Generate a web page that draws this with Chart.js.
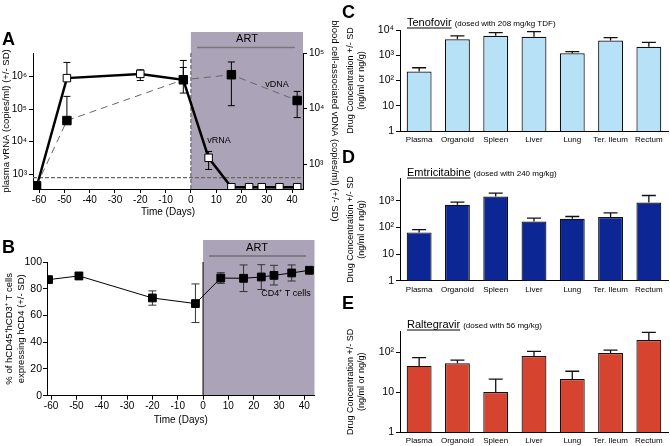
<!DOCTYPE html>
<html>
<head>
<meta charset="utf-8">
<script src="https://cdn.jsdelivr.net/npm/chart.js@4"></script>
<style>
body { margin: 0; background: #fff; }
#wrap { position: relative; width: 670px; height: 446px; overflow: hidden; background: #fff; }
canvas { position: absolute; }
</style>
</head>
<body>
<div id="wrap">
<canvas id="chartA" width="340" height="230" style="left:0;top:0"></canvas>
<canvas id="chartB" width="340" height="216" style="left:0;top:230px"></canvas>
<canvas id="chartC" width="330" height="148" style="left:340px;top:0"></canvas>
<canvas id="chartD" width="330" height="155" style="left:340px;top:145px"></canvas>
<canvas id="chartE" width="330" height="156" style="left:340px;top:290px"></canvas>
</div>
<script>
// panel A - plasma vRNA / cell-associated vDNA
const days = [-61, -49, -20, -3, 7, 16, 23, 28, 35, 42];
const vrna = [400, 890000, 1200000, 790000, 3200, 400, 400, 400, 400, 400];
const vrnaHigh = [null, 2700000, 1600000, 3100000, 5000, null, null, null, null, null];
const vrnaLow = [null, null, 750000, 310000, 1400, null, null, null, null, null];
const dnaDays = [-61, -49, -3, 16, 42];
const vdna = [410, 6100, 33000, 40700, 14000];
const vdnaHigh = [null, 16600, 55000, 69000, 20400];
const vdnaLow = [null, null, null, 11300, 6900];
const timeTicks = [-60, -50, -40, -30, -20, -10, 0, 10, 20, 30, 40];
const rnaTicks = [1e3, 1e4, 1e5, 1e6];
const rnaTickLabels = ['10³', '10⁴', '10⁵', '10⁶'];
const dnaTicks = [1e3, 1e4, 1e5];
const dnaTickLabels = ['10³', '10⁴', '10⁵'];
const detectionLimit = 790;

// panel B - CD4 T cells
const cd4Days = [-61, -49, -20, -3, 7, 16, 23, 28, 35, 42];
const cd4 = [86.8, 89.6, 73.1, 68.9, 88, 87.8, 88.8, 90, 91.8, 93.8];
const cd4High = [null, 91.8, 78.4, 83.6, 92, 97.8, 98, 97.5, 97.8, null];
const cd4Low = [null, 86.8, 67.7, 54.7, 84, 77.9, 79.4, 82.8, 85.8, null];
const pctTicks = [0, 20, 40, 60, 80, 100];

// panels C-E - drug levels (bar top and top of SD bar)
const tissues = ['Plasma', 'Organoid', 'Spleen', 'Liver', 'Lung', 'Ter. Ileum', 'Rectum'];
const tenofovir = [225, 4300, 5900, 5400, 1200, 3800, 2150];
const tenofovirSd = [320, 5900, 7800, 8600, 1380, 5000, 3250];
const emtricitabine = [65, 710, 1450, 167, 210, 245, 860];
const emtricitabineSd = [83, 890, 1950, 225, 257, 355, 1580];
const raltegravir = [45, 52, 10, 79, 21, 94, 200];
const raltegravirSd = [72, 63, 21, 104, 33, 112, 310];
const concTicks = [1, 10, 100, 1000, 10000];
const concTickLabels = ['1', '10', '10²', '10³', '10⁴'];

Chart.defaults.font.family = "'Liberation Sans', Arial, sans-serif";
Chart.defaults.color = '#000';
Chart.defaults.animation = false;

const shade = '#aba3b7';

function fixTicks(vals) {
    return function (scale) { scale.ticks = vals.map(v => ({ value: v })); };
}

function drawErr(ctx, x, y0, y1, cap) {
    ctx.beginPath();
    ctx.moveTo(x, y0);
    ctx.lineTo(x, y1);
    ctx.moveTo(x - cap / 2, y1);
    ctx.lineTo(x + cap / 2, y1);
    ctx.stroke();
}

const axisStyle = {
    grid: { drawOnChartArea: false, color: '#000', tickLength: 4 },
    border: { color: '#000', width: 1 }
};

// ---------- A ----------
new Chart(document.getElementById('chartA'), {
    type: 'line',
    data: {
        datasets: [{
            label: 'vDNA',
            data: dnaDays.map((d, i) => ({ x: d, y: vdna[i] })),
            yAxisID: 'y2',
            borderColor: '#666',
            borderWidth: 1,
            borderDash: [7, 5],
            pointStyle: 'rect',
            pointRadius: 6,
            pointBackgroundColor: '#000',
            pointBorderColor: '#000'
        }, {
            label: 'vRNA',
            data: days.map((d, i) => ({ x: d, y: vrna[i] })),
            yAxisID: 'y',
            borderColor: '#000',
            borderWidth: 2.5,
            pointStyle: 'rect',
            pointRadius: 5.3,
            pointBackgroundColor: '#fff',
            pointBorderColor: '#000',
            pointBorderWidth: 1
        }]
    },
    options: {
        responsive: false,
        layout: { padding: { top: 53, bottom: 12 } },
        plugins: { legend: { display: false }, tooltip: { enabled: false } },
        scales: {
            x: {
                type: 'linear', min: -62.4, max: 44.3,
                afterBuildTicks: fixTicks(timeTicks),
                afterFit: s => { s.height = 29; },
                ticks: { font: { size: 10 }, padding: 1, maxRotation: 0 },
                title: { display: true, text: 'Time (Days)', font: { size: 10 }, padding: 0 },
                ...axisStyle
            },
            y: {
                type: 'logarithmic', position: 'left', min: 353, max: 5250000,
                afterBuildTicks: fixTicks(rnaTicks),
                afterFit: s => { s.width = 33; },
                ticks: { font: { size: 10 }, padding: 2, callback: v => rnaTickLabels[rnaTicks.indexOf(v)] },
                title: { display: true, text: 'plasma vRNA (copies/ml) (+/- SD)', font: { size: 9.5 }, padding: 1 },
                ...axisStyle
            },
            y2: {
                type: 'logarithmic', position: 'right', min: 359, max: 100000,
                afterBuildTicks: fixTicks(dnaTicks),
                afterFit: s => { s.width = 37; },
                ticks: { font: { size: 10 }, padding: 2, callback: v => dnaTickLabels[dnaTicks.indexOf(v)] },
                title: { display: true, text: 'blood cell-associated vDNA (copies/ml) (+/- SD)', font: { size: 9.5 }, padding: 0 },
                ...axisStyle
            }
        }
    },
    plugins: [{
        id: 'panelA',
        beforeDraw(chart) {
            const { ctx, chartArea: a, scales } = chart;
            const x0 = scales.x.getPixelForValue(0);
            ctx.save();
            ctx.fillStyle = shade;
            ctx.fillRect(x0, 32, a.right - x0, a.bottom - 32);
            ctx.restore();
        },
        beforeDatasetsDraw(chart) {
            const { ctx, chartArea: a, scales } = chart;
            const x0 = scales.x.getPixelForValue(0);
            const yl = scales.y.getPixelForValue(detectionLimit);
            ctx.save();
            ctx.strokeStyle = '#666';
            ctx.lineWidth = 1.2;
            ctx.setLineDash([4, 2]);
            ctx.beginPath();
            ctx.moveTo(a.left, yl); ctx.lineTo(a.right, yl);
            ctx.moveTo(x0, a.top); ctx.lineTo(x0, a.bottom);
            ctx.stroke();
            ctx.setLineDash([]);
            ctx.strokeStyle = '#000';
            ctx.lineWidth = 1;
            days.forEach((d, i) => {
                const x = scales.x.getPixelForValue(d);
                const y = scales.y.getPixelForValue(vrna[i]);
                if (vrnaHigh[i]) drawErr(ctx, x, y, scales.y.getPixelForValue(vrnaHigh[i]), 7);
                if (vrnaLow[i]) drawErr(ctx, x, y, scales.y.getPixelForValue(vrnaLow[i]), 7);
            });
            dnaDays.forEach((d, i) => {
                const x = scales.x.getPixelForValue(d);
                const y = scales.y2.getPixelForValue(vdna[i]);
                if (vdnaHigh[i]) drawErr(ctx, x, y, scales.y2.getPixelForValue(vdnaHigh[i]), 7);
                if (vdnaLow[i]) drawErr(ctx, x, y, scales.y2.getPixelForValue(vdnaLow[i]), 7);
            });
            ctx.restore();
        },
        afterDraw(chart) {
            const { ctx } = chart;
            ctx.save();
            ctx.fillStyle = '#000';
            ctx.textAlign = 'center';
            ctx.textBaseline = 'middle';
            ctx.font = "11px 'Liberation Sans', Arial";
            ctx.fillText('ART', 247, 39);
            ctx.strokeStyle = '#777';
            ctx.lineWidth = 1.5;
            ctx.beginPath(); ctx.moveTo(197, 47.5); ctx.lineTo(295, 47.5); ctx.stroke();
            ctx.font = "9px 'Liberation Sans', Arial";
            ctx.fillText('vDNA', 277, 85);
            ctx.fillText('vRNA', 219, 141);
            ctx.textAlign = 'left';
            ctx.textBaseline = 'alphabetic';
            ctx.font = "bold 18px 'Liberation Sans', Arial";
            ctx.fillText('A', 2, 45);
            ctx.restore();
        }
    }]
});

// ---------- B ----------
new Chart(document.getElementById('chartB'), {
    type: 'line',
    data: {
        datasets: [{
            label: 'CD4+ T cells',
            data: cd4Days.map((d, i) => ({ x: d, y: cd4[i] })),
            borderColor: '#000',
            borderWidth: 1,
            pointStyle: 'rect',
            pointRadius: 5.5,
            pointBackgroundColor: '#000',
            pointBorderColor: '#000'
        }]
    },
    options: {
        responsive: false,
        layout: { padding: { top: 32, bottom: 20, right: 25.5 } },
        plugins: { legend: { display: false }, tooltip: { enabled: false } },
        scales: {
            x: {
                type: 'linear', min: -61.6, max: 44,
                afterBuildTicks: fixTicks(timeTicks),
                afterFit: s => { s.height = 30.3; },
                ticks: { font: { size: 10 }, padding: 1, maxRotation: 0 },
                title: { display: true, text: 'Time (Days)', font: { size: 10 }, padding: 0 },
                ...axisStyle
            },
            y: {
                type: 'linear', min: 0, max: 100,
                afterBuildTicks: fixTicks(pctTicks),
                afterFit: s => { s.width = 47; },
                ticks: { font: { size: 10.5 }, padding: 1 },
                title: { display: true, text: ['% of hCD45⁺hCD3⁺ T cells', 'expressing hCD4 (+/- SD)'], font: { size: 9.5 }, padding: { top: 4 } },
                ...axisStyle
            }
        }
    },
    plugins: [{
        id: 'panelB',
        beforeDraw(chart) {
            const { ctx, chartArea: a, scales } = chart;
            const x0 = scales.x.getPixelForValue(0);
            ctx.save();
            ctx.fillStyle = shade;
            ctx.fillRect(x0, 10, a.right - x0, a.bottom - 10);
            ctx.restore();
        },
        beforeDatasetsDraw(chart) {
            const { ctx, chartArea: a, scales } = chart;
            const x0 = scales.x.getPixelForValue(0);
            ctx.save();
            ctx.strokeStyle = '#000';
            ctx.lineWidth = 1;
            ctx.beginPath(); ctx.moveTo(x0, a.top); ctx.lineTo(x0, a.bottom); ctx.stroke();
            ctx.strokeStyle = '#333';
            cd4Days.forEach((d, i) => {
                const x = scales.x.getPixelForValue(d);
                const y = scales.y.getPixelForValue(cd4[i]);
                if (cd4High[i] != null) drawErr(ctx, x, y, scales.y.getPixelForValue(cd4High[i]), 8);
                if (cd4Low[i] != null) drawErr(ctx, x, y, scales.y.getPixelForValue(cd4Low[i]), 8);
            });
            ctx.restore();
        },
        afterDraw(chart) {
            const { ctx } = chart;
            ctx.save();
            ctx.fillStyle = '#000';
            ctx.textAlign = 'center';
            ctx.textBaseline = 'middle';
            ctx.font = "11px 'Liberation Sans', Arial";
            ctx.fillText('ART', 257, 18);
            ctx.strokeStyle = '#555';
            ctx.lineWidth = 1;
            ctx.beginPath(); ctx.moveTo(209, 26); ctx.lineTo(306, 26); ctx.stroke();
            ctx.font = "9px 'Liberation Sans', Arial";
            ctx.fillText('CD4⁺ T cells', 286, 64);
            ctx.textAlign = 'left';
            ctx.textBaseline = 'alphabetic';
            ctx.font = "bold 18px 'Liberation Sans', Arial";
            ctx.fillText('B', 2, 23);
            ctx.restore();
        }
    }]
});

// ---------- C, D, E ----------
function drugChart(id, values, sd, color, yMax, padTop, xHeight, drug, dose, letter, titleY, letterY) {
    const ticks = concTicks.filter(t => t <= yMax);
    return new Chart(document.getElementById(id), {
        type: 'bar',
        data: {
            labels: tissues,
            datasets: [{
                label: drug,
                data: values,
                backgroundColor: color,
                borderColor: '#111',
                borderWidth: 1.2,
                categoryPercentage: 1,
                barPercentage: 0.65
            }]
        },
        options: {
            responsive: false,
            layout: { padding: { top: padTop, right: 2 } },
            plugins: { legend: { display: false }, tooltip: { enabled: false } },
            scales: {
                x: {
                    afterFit: s => { s.height = xHeight; },
                    ticks: { font: { size: 8 }, padding: 4, maxRotation: 0, autoSkip: false },
                    grid: { drawOnChartArea: false, drawTicks: false, color: '#000' },
                    border: { color: '#000', width: 1 }
                },
                y: {
                    type: 'logarithmic', min: 1, max: yMax,
                    afterBuildTicks: fixTicks(ticks),
                    afterFit: s => { s.width = 60; },
                    ticks: { font: { size: 10.5 }, padding: 2, callback: v => concTickLabels[concTicks.indexOf(v)] },
                    title: { display: true, text: ['Drug Concentration +/- SD', '(ng/ml or ng/g)'], font: { size: 9 }, padding: { top: 5 } },
                    ...axisStyle
                }
            }
        },
        plugins: [{
            id: 'drugExtras',
            afterDatasetsDraw(chart) {
                const { ctx, scales } = chart;
                ctx.save();
                ctx.strokeStyle = '#111';
                ctx.lineWidth = 1.3;
                values.forEach((v, i) => {
                    const x = scales.x.getPixelForValue(i);
                    drawErr(ctx, x, scales.y.getPixelForValue(v), scales.y.getPixelForValue(sd[i]), 14);
                });
                ctx.restore();
            },
            afterDraw(chart) {
                const { ctx } = chart;
                ctx.save();
                ctx.fillStyle = '#000';
                ctx.textBaseline = 'alphabetic';
                ctx.font = "11px 'Liberation Sans', Arial";
                ctx.fillText(drug, 67, titleY);
                const w = ctx.measureText(drug).width;
                ctx.strokeStyle = '#000';
                ctx.lineWidth = 1;
                ctx.beginPath(); ctx.moveTo(67, titleY + 2); ctx.lineTo(67 + w, titleY + 2); ctx.stroke();
                ctx.font = "8px 'Liberation Sans', Arial";
                ctx.fillText(dose, 67 + w + 3, titleY);
                ctx.font = "bold 18px 'Liberation Sans', Arial";
                ctx.fillText(letter, 2, letterY);
                ctx.restore();
            }
        }]
    });
}

drugChart('chartC', tenofovir, tenofovirSd, '#b7e1f6', 10000, 30, 17, 'Tenofovir', '(dosed with 208 mg/kg TDF)', 'C', 26, 18);
drugChart('chartD', emtricitabine, emtricitabineSd, '#0c2694', 7000, 33.3, 19.3, 'Emtricitabine', '(dosed with 240 mg/kg)', 'D', 31, 18);
drugChart('chartE', raltegravir, raltegravirSd, '#d6432e', 322, 41.7, 14, 'Raltegravir', '(dosed with 56 mg/kg)', 'E', 38, 19);
</script>
</body>
</html>
